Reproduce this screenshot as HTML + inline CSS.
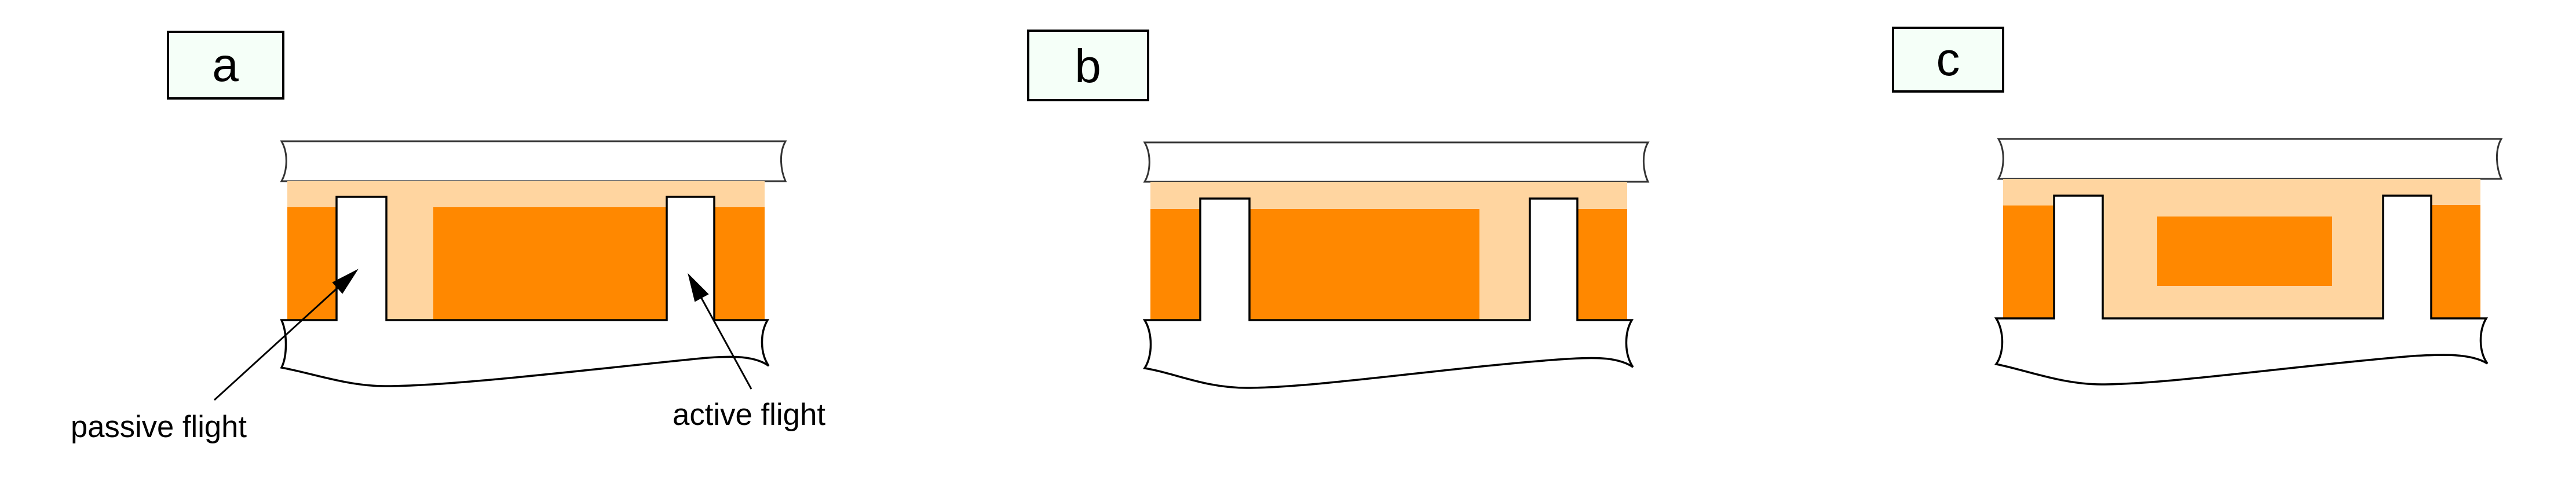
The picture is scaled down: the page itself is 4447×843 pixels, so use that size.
<!DOCTYPE html>
<html><head><meta charset="utf-8"><style>
html,body{margin:0;padding:0;background:#fff;}
svg{display:block;}
text{font-family:"Liberation Sans",Arial,sans-serif;}
</style></head><body>
<svg width="4447" height="843" viewBox="0 0 4447 843" xmlns="http://www.w3.org/2000/svg">
<!-- Panel a -->
<rect x="290" y="55" width="199" height="115" fill="#F5FFF8" stroke="#000" stroke-width="4"/>
<text x="389" y="140" font-size="82" text-anchor="middle">a</text>
<path d="M486,244 L1356,244 C1344,265 1348,295 1356,313 L486,313 C496,295 498,265 486,244 Z" fill="#fff" stroke="#333" stroke-width="3"/>
<rect x="496" y="313" width="824" height="240" fill="#FFD5A0"/>
<rect x="496" y="358" width="85" height="195" fill="#FF8800"/>
<rect x="748" y="358" width="403" height="195" fill="#FF8800"/>
<rect x="1233" y="358" width="87" height="195" fill="#FF8800"/>
<path d="M486,553 L581,553 L581,340 L667,340 L667,553 L1151,553 L1151,340 L1233,340 L1233,553 L1325,553 C1312,575 1312,610 1327,632 C1300,612 1250,615 1200,620 C1000,640 780,667 665,667 C600,667 540,645 486,635 C496,615 496,575 486,553 Z" fill="#fff" stroke="#000" stroke-width="3.5"/>
<line x1="370" y1="691" x2="595" y2="486" stroke="#000" stroke-width="3"/>
<polygon points="616,467 591,506 575,488" fill="#000" stroke="#000" stroke-width="2"/>
<line x1="1297" y1="672" x2="1200" y2="495" stroke="#000" stroke-width="3"/>
<polygon points="1189,475 1222,508 1200,520" fill="#000" stroke="#000" stroke-width="2"/>
<text x="122" y="755" font-size="53" textLength="304" lengthAdjust="spacingAndGlyphs">passive flight</text>
<text x="1161" y="734" font-size="53" textLength="264" lengthAdjust="spacingAndGlyphs">active flight</text>

<!-- Panel b -->
<rect x="1775" y="53" width="207" height="120" fill="#F5FFF8" stroke="#000" stroke-width="4"/>
<text x="1878" y="142" font-size="82" text-anchor="middle">b</text>
<path d="M1976,246 L2845,246 C2833,267 2837,297 2845,314 L1976,314 C1986,297 1988,267 1976,246 Z" fill="#fff" stroke="#333" stroke-width="3"/>
<rect x="1986" y="314" width="823" height="239" fill="#FFD5A0"/>
<rect x="1986" y="361" width="86" height="192" fill="#FF8800"/>
<rect x="2157" y="361" width="397" height="192" fill="#FF8800"/>
<rect x="2723" y="361" width="86" height="192" fill="#FF8800"/>
<path d="M1976,553 L2072,553 L2072,343 L2157,343 L2157,553 L2641,553 L2641,343 L2723,343 L2723,553 L2817,553 C2804,575 2804,612 2819,634 C2790,614 2740,618 2690,621 C2500,635 2270,670 2152,670 C2080,670 2030,645 1976,636 C1990,615 1990,575 1976,553 Z" fill="#fff" stroke="#000" stroke-width="3.5"/>

<!-- Panel c -->
<rect x="3268" y="48" width="190" height="110" fill="#F5FFF8" stroke="#000" stroke-width="4"/>
<text x="3363" y="130" font-size="82" text-anchor="middle">c</text>
<path d="M3450,240 L4318,240 C4306,261 4310,291 4318,309 L3450,309 C3460,291 3462,261 3450,240 Z" fill="#fff" stroke="#333" stroke-width="3"/>
<rect x="3458" y="309" width="824" height="241" fill="#FFD5A0"/>
<rect x="3458" y="355" width="88" height="195" fill="#FF8800"/>
<rect x="4197" y="354" width="85" height="196" fill="#FF8800"/>
<rect x="3724" y="374" width="302" height="120" fill="#FF8800"/>
<path d="M3446,550 L3546,550 L3546,338 L3630,338 L3630,550 L4114,550 L4114,338 L4197,338 L4197,550 L4292,550 C4279,572 4279,607 4294,628 C4265,610 4215,612 4165,615 C3980,630 3740,664 3628,664 C3560,664 3500,640 3446,629 C3460,610 3460,572 3446,550 Z" fill="#fff" stroke="#000" stroke-width="3.5"/>
</svg>
</body></html>
